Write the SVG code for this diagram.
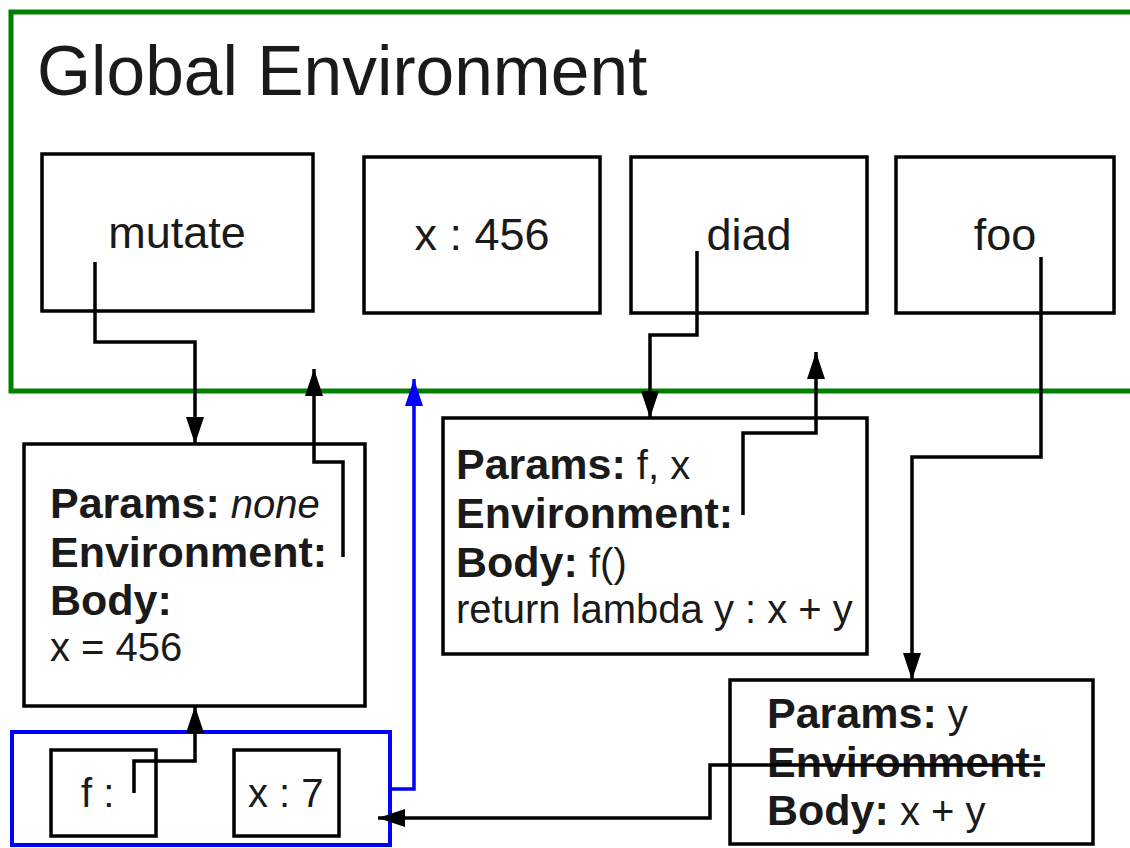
<svg xmlns="http://www.w3.org/2000/svg" width="1130" height="848" viewBox="0 0 1130 848">
<style>
  .box { fill: #fff; stroke: #000; stroke-width: 3.5; }
  .t { font-family: "Liberation Sans", Arial, sans-serif; fill: #1a1a1a; }
  .name { font-size: 45px; text-anchor: middle; }
  .b { font-weight: bold; font-size: 43px; }
  .r { font-size: 40px; }
  .c { fill: none; stroke: #000; stroke-width: 3.5; }
  .cb { fill: none; stroke: #0000ff; stroke-width: 3.5; }
</style>
<defs>
  <marker id="ah" viewBox="0 0 27 18" refX="27" refY="9" markerWidth="27" markerHeight="18" markerUnits="userSpaceOnUse" orient="auto">
    <path d="M0,0 L27,9 L0,18 z" fill="#000"/>
  </marker>
  <marker id="ahb" viewBox="0 0 27 18" refX="27" refY="9" markerWidth="27" markerHeight="18" markerUnits="userSpaceOnUse" orient="auto">
    <path d="M0,0 L27,9 L0,18 z" fill="#0000ff"/>
  </marker>
</defs>
<rect width="1130" height="848" fill="#fff"/>

<g id="global-env">
  <path d="M1135,12 H11 V391 H1135" fill="none" stroke="#008000" stroke-width="5"/>
  <text class="t" x="37" y="95" font-size="69.5">Global Environment</text>
</g>

<g id="mutate">
  <rect class="box" x="42" y="154" width="271" height="157"/>
  <text class="t name" x="177" y="248">mutate</text>
</g>
<g id="x456">
  <rect class="box" x="364" y="157" width="236" height="156"/>
  <text class="t name" x="482" y="250">x : 456</text>
</g>
<g id="diad">
  <rect class="box" x="631" y="157" width="236" height="156"/>
  <text class="t name" x="749" y="250">diad</text>
</g>
<g id="foo">
  <rect class="box" x="896" y="157" width="218" height="156"/>
  <text class="t name" x="1005" y="250">foo</text>
</g>

<g id="mutate-func">
  <rect class="box" x="24" y="444" width="341" height="262"/>
  <text class="t" x="50" y="518"><tspan class="b">Params:</tspan><tspan class="r" font-style="italic"> none</tspan></text>
  <text class="t b" x="50" y="567">Environment:</text>
  <text class="t b" x="50" y="615">Body:</text>
  <text class="t r" x="50" y="661">x = 456</text>
</g>

<g id="diad-func">
  <rect class="box" x="443" y="418" width="424" height="236"/>
  <text class="t" x="456" y="479"><tspan class="b">Params:</tspan><tspan class="r"> f, x</tspan></text>
  <text class="t b" x="456" y="528">Environment:</text>
  <text class="t" x="456" y="577"><tspan class="b">Body:</tspan><tspan class="r"> f()</tspan></text>
  <text class="t r" x="456" y="623">return lambda y : x + y</text>
</g>

<g id="lambda-func">
  <rect class="box" x="730" y="680" width="363" height="164"/>
  <text class="t" x="767" y="728"><tspan class="b">Params:</tspan><tspan class="r"> y</tspan></text>
  <text class="t b" x="767" y="777">Environment:</text>
  <text class="t" x="767" y="825"><tspan class="b">Body:</tspan><tspan class="r"> x + y</tspan></text>
</g>

<g id="frame-f1">
  <rect x="12" y="732" width="378" height="113" fill="none" stroke="#0000ff" stroke-width="4"/>
</g>
<g id="f-binding">
  <rect class="box" x="51" y="750" width="105" height="86"/>
  <text class="t r" x="81" y="807">f :</text>
</g>
<g id="x7">
  <rect class="box" x="234" y="750" width="105" height="86"/>
  <text class="t r" x="248" y="807">x : 7</text>
</g>

<g id="connectors">
  <path class="c" d="M95,262 V342 H195 V444" marker-end="url(#ah)"/>
  <path class="c" d="M343,557 V462 H314 V369" marker-end="url(#ah)"/>
  <path class="cb" d="M390,789 H414 V379" marker-end="url(#ahb)"/>
  <path class="c" d="M134,793 V761 H195 V706" marker-end="url(#ah)"/>
  <path class="c" d="M697,251 V335 H650 V418" marker-end="url(#ah)"/>
  <path class="c" d="M743,515 V433 H816 V352" marker-end="url(#ah)"/>
  <path class="c" d="M1041,257 V457 H912 V680" marker-end="url(#ah)"/>
  <path class="c" d="M1045,765 H710 V818 H378" marker-end="url(#ah)"/>
</g>
</svg>
